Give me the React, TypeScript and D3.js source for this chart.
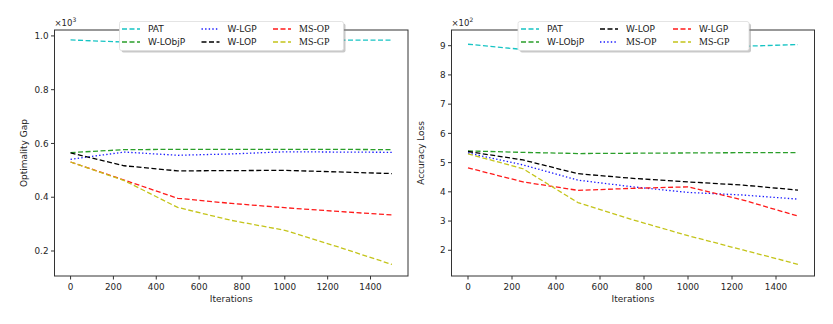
import React from 'react'
import * as d3 from 'd3'

const iterations = [0, 250, 500, 750, 1000, 1250, 1500]

// Optimality gap (x10^3)
const gapPAT = [0.985, 0.977, 0.98, 0.982, 0.984, 0.984, 0.984]
const gapWLObjP = [0.566, 0.577, 0.578, 0.578, 0.578, 0.578, 0.577]
const gapWLGP = [0.541, 0.568, 0.556, 0.561, 0.569, 0.568, 0.567]
const gapWLOP = [0.565, 0.517, 0.498, 0.499, 0.5, 0.494, 0.488]
const gapMSOP = [0.531, 0.464, 0.396, 0.377, 0.361, 0.347, 0.334]
const gapMSGP = [0.531, 0.462, 0.362, 0.314, 0.277, 0.215, 0.15]

// Accuracy loss (x10^2)
const lossPAT = [9.05, 8.87, 8.9, 8.92, 8.95, 8.98, 9.04]
const lossWLObjP = [5.4, 5.35, 5.31, 5.32, 5.33, 5.34, 5.34]
const lossWLOP = [5.38, 5.09, 4.62, 4.46, 4.34, 4.23, 4.06]
const lossMSOP = [5.33, 4.92, 4.4, 4.17, 3.98, 3.89, 3.75]
const lossWLGP = [4.82, 4.34, 4.05, 4.12, 4.17, 3.72, 3.17]
const lossMSGP = [5.3, 4.79, 3.63, 3.04, 2.5, 2.01, 1.52]

const xTicks = [0, 200, 400, 600, 800, 1000, 1200, 1400]
const gapTicks = [0.2, 0.4, 0.6, 0.8, 1.0]
const lossTicks = [2, 3, 4, 5, 6, 7, 8, 9]

const SANS = 'DejaVu Sans'
const SERIF = 'Liberation Serif, DejaVu Serif, serif'
const DASH = '5,2.5'
const DOT = '1.4,2.2'

const colors = {
  c: '#17c4c4',
  g: '#2a9e2a',
  b: '#1a1aff',
  k: '#000000',
  r: '#ff1a1a',
  y: '#c4c41a',
}

type Series = { name: string; values: number[]; color: string; dash: string; serif?: boolean }

function Panel(props: {
  left: number
  right: number
  yDomain: [number, number]
  yTicks: number[]
  yFmt: (v: number) => string
  series: Series[]
  ylabel: string
  offset: string
  legendX: number
  legendW: number
  cols: number[]
}) {
  const top = 30
  const bottom = 276
  const x = d3.scaleLinear().domain([-75, 1575]).range([props.left, props.right])
  const y = d3.scaleLinear().domain(props.yDomain).range([bottom, top])
  const line = d3
    .line<number>()
    .x((_, i) => x(iterations[i]))
    .y(d => y(d))
  const mid = (props.left + props.right) / 2
  const lx = props.legendX
  const ly = 21.5
  const lw = props.legendW
  const lh = 29
  return (
    <g>
      {props.series.map(s => (
        <path key={s.name} d={line(s.values) || ''} fill="none" stroke={s.color} strokeWidth={1.3} strokeDasharray={s.dash} />
      ))}
      <rect x={props.left} y={top} width={props.right - props.left} height={bottom - top} fill="none" stroke="#333" strokeWidth={1} />
      {xTicks.map(t => (
        <g key={t}>
          <line x1={x(t)} x2={x(t)} y1={bottom} y2={bottom + 3.5} stroke="#333" />
          <text x={x(t)} y={bottom + 13.5} fontFamily={SANS} fontSize={8.8} textAnchor="middle" fill="#262626">{t}</text>
        </g>
      ))}
      {props.yTicks.map(t => (
        <g key={t}>
          <line x1={props.left - 3.5} x2={props.left} y1={y(t)} y2={y(t)} stroke="#333" />
          <text x={props.left - 6} y={y(t) + 3.2} fontFamily={SANS} fontSize={8.8} textAnchor="end" fill="#262626">{props.yFmt(t)}</text>
        </g>
      ))}
      <text x={mid} y={301.5} fontFamily={SANS} fontSize={9} textAnchor="middle" fill="#262626">Iterations</text>
      <text transform={`translate(${props.left - 28},${(top + bottom) / 2}) rotate(-90)`} fontFamily={SANS} fontSize={9} textAnchor="middle" fill="#262626">{props.ylabel}</text>
      <text x={props.left} y={26} fontFamily={SANS} fontSize={8.5} fill="#262626">
        ×10<tspan dy={-4} fontSize={6}>{props.offset}</tspan>
      </text>
      <rect x={lx + 2} y={ly + 2} width={lw} height={lh} rx={2} fill="#888" opacity={0.45} />
      <rect x={lx} y={ly} width={lw} height={lh} rx={2} fill="#fff" stroke="#ddd" strokeWidth={0.8} />
      {props.series.map((s, i) => {
        const col = Math.floor(i / 2)
        const row = i % 2
        const hx = lx + props.cols[col]
        const hy = ly + 7.5 + row * 13
        return (
          <g key={s.name}>
            <line x1={hx} x2={hx + 18} y1={hy} y2={hy} stroke={s.color} strokeWidth={1.3} strokeDasharray={s.dash} />
            <text x={hx + 26} y={hy + 3.2} fontSize={s.serif ? 10 : 9} fontFamily={s.serif ? SERIF : SANS} fill="#222">{s.name}</text>
          </g>
        )
      })}
    </g>
  )
}

export default function App() {
  const gapSeries: Series[] = [
    { name: 'PAT', values: gapPAT, color: colors.c, dash: DASH },
    { name: 'W-LObjP', values: gapWLObjP, color: colors.g, dash: DASH },
    { name: 'W-LGP', values: gapWLGP, color: colors.b, dash: DOT },
    { name: 'W-LOP', values: gapWLOP, color: colors.k, dash: DASH },
    { name: 'MS-OP', values: gapMSOP, color: colors.r, dash: DASH, serif: true },
    { name: 'MS-GP', values: gapMSGP, color: colors.y, dash: DASH, serif: true },
  ]
  const lossSeries: Series[] = [
    { name: 'PAT', values: lossPAT, color: colors.c, dash: DASH },
    { name: 'W-LObjP', values: lossWLObjP, color: colors.g, dash: DASH },
    { name: 'W-LOP', values: lossWLOP, color: colors.k, dash: DASH },
    { name: 'MS-OP', values: lossMSOP, color: colors.b, dash: DOT, serif: true },
    { name: 'W-LGP', values: lossWLGP, color: colors.r, dash: DASH },
    { name: 'MS-GP', values: lossMSGP, color: colors.y, dash: DASH, serif: true },
  ]
  return (
    <svg width={833} height={324} style={{ position: 'absolute', left: 0, top: 0, background: '#fff' }}>
      <Panel
        left={54.5}
        right={408}
        yDomain={[0.107, 1.022]}
        yTicks={gapTicks}
        yFmt={d3.format('.1f')}
        series={gapSeries}
        ylabel="Optimality Gap"
        offset="3"
        legendX={119.5}
        legendW={224}
        cols={[2.5, 82, 153.5]}
      />
      <Panel
        left={451.5}
        right={814.5}
        yDomain={[1.12, 9.537]}
        yTicks={lossTicks}
        yFmt={d3.format('d')}
        series={lossSeries}
        ylabel="Accuracy Loss"
        offset="2"
        legendX={518}
        legendW={231}
        cols={[3, 82, 155]}
      />
    </svg>
  )
}
